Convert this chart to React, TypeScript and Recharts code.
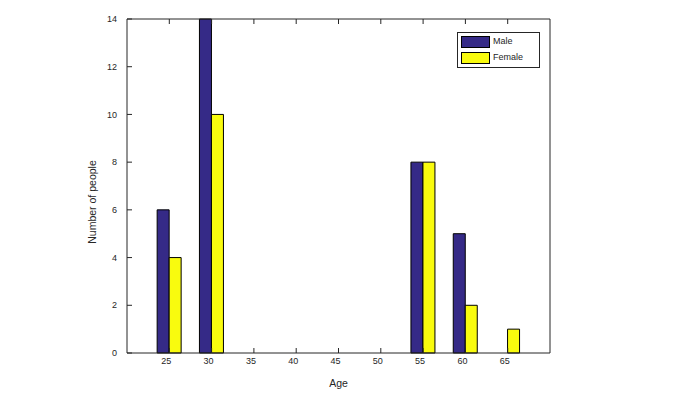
import { BarChart, Bar, XAxis, YAxis, Legend, Label } from 'recharts';

const ages = [25, 30, 35, 40, 45, 50, 55, 60, 65];
const maleCounts = [6, 14, 0, 0, 0, 0, 8, 5, 0];
const femaleCounts = [4, 10, 0, 0, 0, 0, 8, 2, 1];
const yTicks = [0, 2, 4, 6, 8, 10, 12, 14];
const seriesOrder = ['Male', 'Female'];

const data = ages.map((age, i) => ({
  age,
  male: maleCounts[i],
  female: femaleCounts[i],
}));

const INK = '#262626';
const FONT = '"Liberation Sans", Arial, sans-serif';

function YTitle({ viewBox }: any) {
  const x = viewBox.x + viewBox.width - 35;
  const y = viewBox.y + viewBox.height / 2 + 16;
  return (
    <text
      x={x}
      y={y}
      transform={`rotate(-90, ${x}, ${y})`}
      textAnchor="middle"
      dominantBaseline="central"
      fontSize={10.5}
      fontFamily={FONT}
      fill={INK}
    >
      Number of people
    </text>
  );
}

function LegendBox({ payload }: any) {
  const items = [...(payload || [])].sort(
    (a: any, b: any) => seriesOrder.indexOf(a.value) - seriesOrder.indexOf(b.value),
  );
  return (
    <div
      style={{
        border: `1px solid ${INK}`,
        background: '#fff',
        width: 78,
        padding: '3px 0 3px 3px',
        fontFamily: FONT,
        fontSize: 9,
        color: INK,
      }}
    >
      {items.map((p: any, i: number) => (
        <div
          key={p.value}
          style={{ display: 'flex', alignItems: 'center', height: 12, marginTop: i ? 4 : 0 }}
        >
          <span
            style={{
              display: 'inline-block',
              width: 27,
              height: 10,
              background: p.color,
              border: '1px solid #000',
              marginRight: 3,
            }}
          />
          <span style={{ marginTop: -3 }}>{p.value}</span>
        </div>
      ))}
    </div>
  );
}

export default function App() {
  const tickStyle = { fontSize: 9, fill: INK, fontFamily: FONT };
  return (
    <div style={{ position: 'absolute', left: 0, top: 0 }}>
      <BarChart
        width={687}
        height={404}
        data={data}
        margin={{ top: 0, right: 0, bottom: 0, left: 0 }}
        barGap={0}
        barSize={12}
      >
        <XAxis
          dataKey="age"
          type="number"
          domain={[20, 70]}
          ticks={ages}
          height={51}
          tickSize={-5}
          tickMargin={10}
          stroke={INK}
          tick={{ ...tickStyle, dx: -3 }}
        >
          <Label
            value="Age"
            position="insideTop"
            offset={27}
            style={{ fontSize: 10.5, fill: INK, fontFamily: FONT }}
          />
        </XAxis>
        <XAxis
          xAxisId="top"
          orientation="top"
          type="number"
          dataKey="age"
          domain={[20, 70]}
          ticks={ages}
          height={19}
          tickSize={-5}
          stroke={INK}
          tickFormatter={() => ''}
        />
        <YAxis
          yAxisId="left"
          domain={[0, 14]}
          ticks={yTicks}
          width={127}
          tickSize={-5}
          tickMargin={15}
          stroke={INK}
          tick={tickStyle}
          label={<YTitle />}
        />
        <YAxis
          yAxisId="right"
          orientation="right"
          domain={[0, 14]}
          ticks={yTicks}
          width={137}
          tickSize={-5}
          stroke={INK}
          tickFormatter={() => ''}
        />
        <Legend
          layout="vertical"
          align="center"
          verticalAlign="middle"
          content={<LegendBox />}
          wrapperStyle={{ position: 'absolute', left: 457, top: 32, width: 'auto' }}
        />
        <Bar
          yAxisId="left"
          dataKey="male"
          name="Male"
          fill="#352a87"
          stroke="#000"
          strokeWidth={1}
          isAnimationActive={false}
        />
        <Bar
          yAxisId="left"
          dataKey="female"
          name="Female"
          fill="#f9fb0e"
          stroke="#000"
          strokeWidth={1}
          isAnimationActive={false}
        />
      </BarChart>
    </div>
  );
}
